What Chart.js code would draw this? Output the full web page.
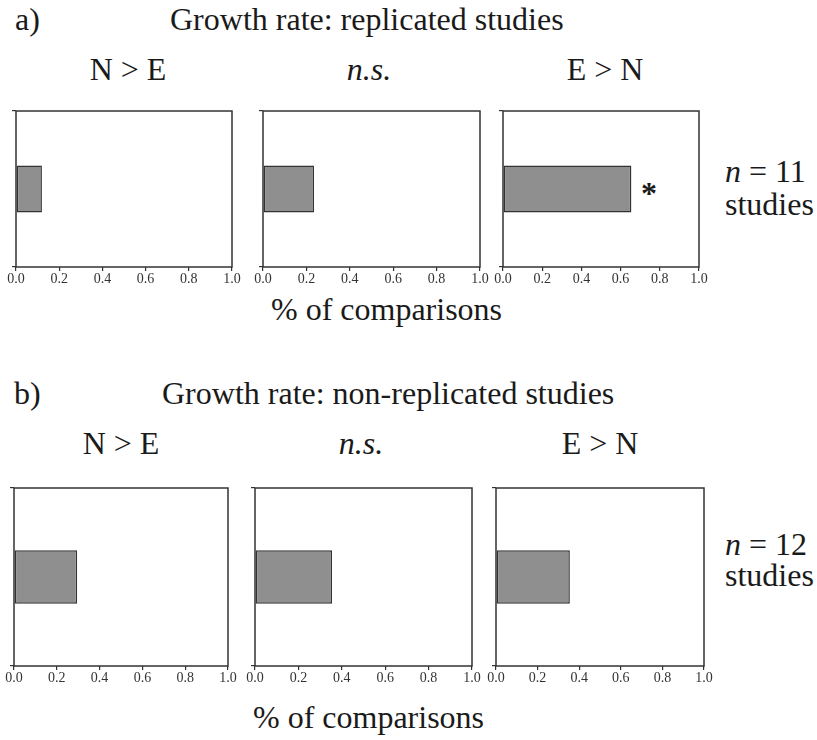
<!DOCTYPE html>
<html lang="en">
<head>
  <meta charset="UTF-8">
  <title>Growth rate: replicated vs non-replicated studies</title>
  <script src="https://cdn.jsdelivr.net/npm/chart.js"></script>
  <style>
    body { margin: 0; background: #fff; width: 817px; height: 740px; position: relative; overflow: hidden;
           font-family: "Liberation Serif", "DejaVu Serif", serif; color: #1a1a1a; }
    .t { position: absolute; font-size: 32px; line-height: 1; white-space: nowrap; }
    .c { transform: translateX(-50%); }
    .it { font-style: italic; }
    .panel { position: absolute; }
  </style>
</head>
<body>
  <div class="t" style="left:15px; top:3px;">a)</div>
  <div class="t" style="left:170px; top:3px;">Growth rate: replicated studies</div>
  <div class="t c" style="left:128px; top:53px;">N &gt; E</div>
  <div class="t c it" style="left:369px; top:53px;">n.s.</div>
  <div class="t c" style="left:605px; top:53px;">E &gt; N</div>
  <div class="t" style="left:725px; top:155px;"><i>n</i> = 11</div>
  <div class="t" style="left:725px; top:188px;">studies</div>
  <div class="t" style="left:271px; top:293px;">% of comparisons</div>
  <div class="t" style="left:641px; top:177px; font-size:32px; font-weight:bold;">*</div>

  <div class="t" style="left:14px; top:377px;">b)</div>
  <div class="t" style="left:162px; top:377px;">Growth rate: non-replicated studies</div>
  <div class="t c" style="left:121px; top:427px;">N &gt; E</div>
  <div class="t c it" style="left:361px; top:427px;">n.s.</div>
  <div class="t c" style="left:600px; top:427px;">E &gt; N</div>
  <div class="t" style="left:725px; top:528px;"><i>n</i> = 12</div>
  <div class="t" style="left:725px; top:559px;">studies</div>
  <div class="t" style="left:253px; top:701px;">% of comparisons</div>

  <script>
    // proportion of comparisons per outcome (N > E, n.s., E > N)
    const outcomes = ['N > E', 'n.s.', 'E > N'];
    const replicated = [0.12, 0.235, 0.655];
    const nonReplicated = [0.295, 0.355, 0.355];
    const xTicks = [0.0, 0.2, 0.4, 0.6, 0.8, 1.0];

    // plot-area boxes [left, top, width, height]
    const boxesA = [[16, 111, 216, 156], [263, 111, 217, 156], [503, 111, 196, 156]];
    const boxesB = [[14, 488, 214, 178], [255, 488, 217, 178], [496, 488, 208, 178]];

    const PAD_L = 12, PAD_R = 12, PAD_T = 4, TICK = 4, XAXIS_H = 24;
    const TICK_FONT = { family: "'Liberation Serif', serif", size: 14 };

    const frame = {
      id: 'frame',
      afterDraw(chart) {
        const { ctx, chartArea: a } = chart;
        ctx.save();
        ctx.strokeStyle = '#333';
        ctx.lineWidth = 1.5;
        ctx.strokeRect(a.left, a.top, a.right - a.left, a.bottom - a.top);
        ctx.restore();
      }
    };

    function makePanel(box, value) {
      const [l, t, w, h] = box;
      const cv = document.createElement('canvas');
      cv.className = 'panel';
      const cw = w + PAD_L + TICK + PAD_R, ch = h + PAD_T + XAXIS_H;
      cv.width = cw; cv.height = ch;
      cv.style.left = (l - PAD_L - TICK) + 'px';
      cv.style.top = (t - PAD_T) + 'px';
      cv.style.width = cw + 'px'; cv.style.height = ch + 'px';
      document.body.appendChild(cv);
      new Chart(cv, {
        type: 'bar',
        data: {
          labels: [''],
          datasets: [{
            data: [value],
            backgroundColor: '#8f8f8f',
            borderColor: '#333',
            borderWidth: 1.5,
            borderSkipped: false,
            barPercentage: 0.3,
            categoryPercentage: 1
          }]
        },
        options: {
          indexAxis: 'y',
          responsive: false,
          animation: false,
          layout: { padding: { left: PAD_L, right: PAD_R, top: PAD_T, bottom: 0 } },
          plugins: { legend: { display: false }, tooltip: { enabled: false } },
          scales: {
            x: {
              type: 'linear', min: 0, max: 1,
              afterBuildTicks: s => { s.ticks = xTicks.map(v => ({ value: v })); },
              afterFit: s => { s.height = XAXIS_H; s.paddingLeft = 0; s.paddingRight = 0; },
              border: { display: false },
              grid: { display: true, drawOnChartArea: false, drawTicks: true, tickLength: TICK, color: '#333', lineWidth: 1.2 },
              ticks: { padding: 0, color: '#333', font: TICK_FONT,
                       maxRotation: 0, autoSkip: false, callback: v => Number(v).toFixed(1) }
            },
            y: {
              afterFit: s => { s.width = TICK; },
              border: { display: false },
              grid: { display: true, drawOnChartArea: false, drawTicks: true, tickLength: TICK, color: '#333', lineWidth: 1.2 },
              ticks: { display: false }
            }
          }
        },
        plugins: [frame]
      });
    }

    boxesA.forEach((b, i) => makePanel(b, replicated[i]));
    boxesB.forEach((b, i) => makePanel(b, nonReplicated[i]));
  </script>
</body>
</html>
